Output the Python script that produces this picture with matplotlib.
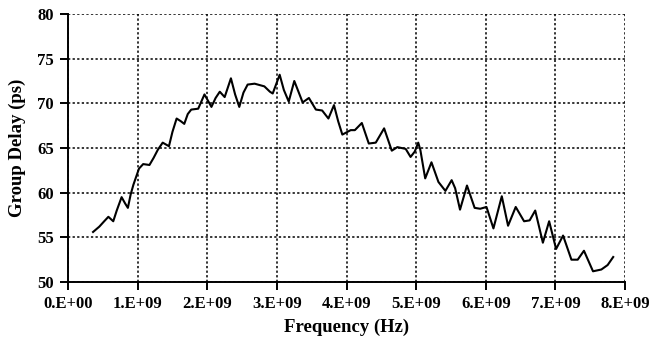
import numpy as np
import matplotlib
matplotlib.use("Agg")
import matplotlib.pyplot as plt
import matplotlib.ticker as mticker

plt.rcParams.update({
    "font.family": "Liberation Serif",
    "font.weight": "bold",
    "axes.spines.top": False,
    "axes.spines.right": False,
})

# frequency in GHz, group delay in ps
freq_ghz = [0.36, 0.45, 0.52, 0.58, 0.65, 0.70, 0.77, 0.82, 0.86, 0.90, 0.94, 1.02,
            1.08, 1.17, 1.23, 1.29, 1.36, 1.45, 1.50, 1.56, 1.62, 1.67, 1.72, 1.77,
            1.87, 1.96, 2.06, 2.12, 2.18, 2.25, 2.34, 2.40, 2.46, 2.52, 2.58, 2.68,
            2.82, 2.90, 2.94, 3.04, 3.10, 3.17, 3.25, 3.31, 3.37, 3.46, 3.56, 3.65,
            3.74, 3.82, 3.88, 3.94, 4.06, 4.12, 4.22, 4.32, 4.42, 4.54, 4.65, 4.73,
            4.85, 4.92, 4.98, 5.03, 5.06, 5.13, 5.22, 5.32, 5.42, 5.51, 5.56, 5.63,
            5.73, 5.84, 5.92, 6.01, 6.11, 6.23, 6.32, 6.43, 6.55, 6.63, 6.71, 6.82,
            6.91, 7.01, 7.11, 7.23, 7.32, 7.41, 7.54, 7.66, 7.75, 7.83]
delay_ps = [55.6, 56.2, 56.8, 57.3, 56.8, 58.0, 59.5, 58.8, 58.3, 59.8, 60.9, 62.7,
            63.2, 63.1, 63.9, 64.8, 65.6, 65.2, 66.8, 68.3, 68.0, 67.7, 68.8, 69.3,
            69.4, 71.0, 69.6, 70.6, 71.3, 70.7, 72.8, 71.0, 69.6, 71.2, 72.1, 72.2,
            71.9, 71.3, 71.1, 73.2, 71.5, 70.2, 72.5, 71.3, 70.1, 70.6, 69.3, 69.2,
            68.3, 69.8, 68.0, 66.5, 67.0, 67.0, 67.8, 65.5, 65.6, 67.2, 64.7, 65.1,
            64.9, 64.0, 64.6, 65.6, 64.8, 61.6, 63.4, 61.2, 60.2, 61.4, 60.5, 58.1,
            60.8, 58.3, 58.2, 58.4, 56.0, 59.6, 56.3, 58.4, 56.8, 56.9, 58.0, 54.4,
            56.8, 53.7, 55.2, 52.5, 52.5, 53.5, 51.2, 51.4, 51.9, 52.8]

freq_hz = np.array(freq_ghz) * 1e9

fig = plt.figure(figsize=(6.5, 3.43), dpi=100)
ax = fig.add_axes([0.1046, 0.1778, 0.857, 0.7814])

ax.plot(freq_hz, delay_ps, color="black", linewidth=1.5, solid_joinstyle="round", zorder=3)

ax.set_xlim(0, 8e9)
ax.set_ylim(50, 80)
ax.xaxis.set_major_locator(mticker.MultipleLocator(1e9))
ax.yaxis.set_major_locator(mticker.MultipleLocator(5))
ax.xaxis.set_major_formatter(mticker.FuncFormatter(lambda v, p: f"{int(round(v / 1e9))}.E+{0 if v == 0 else 9:02d}"))

ax.grid(True, color="black", linestyle=(0, (1.5, 1.5)), linewidth=1.1)
ax.set_axisbelow(True)
for s in ("left", "bottom"):
    ax.spines[s].set_linewidth(1.4)
ax.tick_params(axis="both", direction="out", length=6, width=1.4, labelsize=12, pad=4)
for lbl in ax.get_xticklabels() + ax.get_yticklabels():
    lbl.set_fontweight("bold")

ax.set_xlabel("Frequency (Hz)", fontsize=13.5, fontweight="bold", labelpad=5)
ax.set_ylabel("Group Delay (ps)", fontsize=13.5, fontweight="bold", labelpad=8)

fig.savefig("out.png", dpi=100)
